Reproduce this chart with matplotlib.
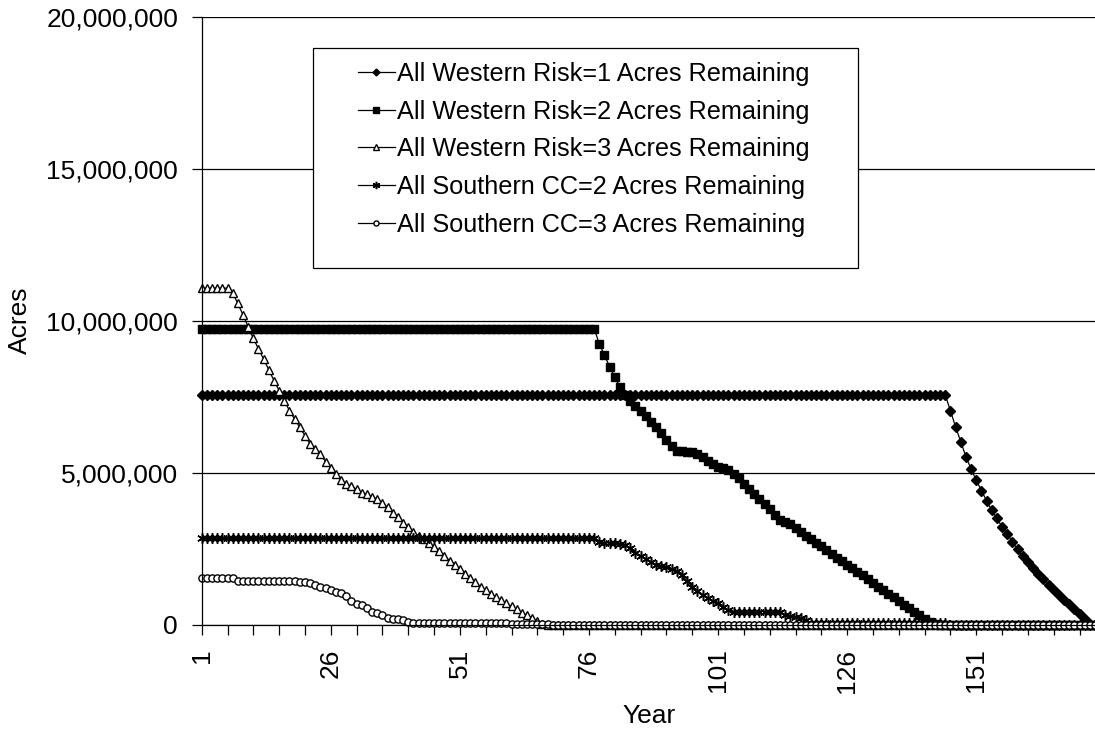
import matplotlib as mpl
mpl.use('Agg')
import matplotlib.pyplot as plt
from matplotlib.patches import Rectangle
from matplotlib.ticker import FuncFormatter

plt.rcParams['font.family'] = ['Liberation Sans', 'DejaVu Sans']

# years 1..174
years = list(range(1, 175))

# acres remaining, in millions
west_risk1 = [7.57] * 145 + [
    7.04, 6.52, 6.03, 5.54, 5.13, 4.77, 4.42, 4.09, 3.78, 3.51,
    3.23, 2.99, 2.74, 2.49, 2.28, 2.07, 1.86, 1.68, 1.50, 1.32,
    1.15, 0.99, 0.82, 0.68, 0.52, 0.35, 0.19, 0.03, 0.0]

west_risk2 = [9.75] * 77 + [
    9.25, 8.87, 8.50, 8.15, 7.82, 7.55, 7.38, 7.20, 7.04, 6.86,
    6.69, 6.52, 6.30, 6.09, 5.90, 5.74, 5.71, 5.70, 5.68, 5.64,
    5.52, 5.40, 5.29, 5.21, 5.15, 5.10, 4.97, 4.82, 4.65, 4.48,
    4.31, 4.14, 3.97, 3.80, 3.62, 3.46, 3.40, 3.33, 3.18, 3.07,
    2.94, 2.83, 2.70, 2.59, 2.46, 2.35, 2.22, 2.11, 1.98, 1.87,
    1.74, 1.63, 1.50, 1.39, 1.26, 1.15, 1.02, 0.91, 0.78, 0.67,
    0.55, 0.44, 0.32, 0.21, 0.11, 0.03] + [0.0] * 31

west_risk3 = [11.08] * 6 + [
    10.91, 10.58, 10.20, 9.81, 9.43, 9.08, 8.74, 8.39, 8.04, 7.71,
    7.38, 7.05, 6.77, 6.50, 6.23, 5.95, 5.78, 5.62, 5.37, 5.15,
    4.96, 4.77, 4.63, 4.57, 4.46, 4.35, 4.30, 4.22, 4.13, 4.02,
    3.87, 3.69, 3.54, 3.37, 3.21, 3.07, 2.93, 2.82, 2.69, 2.58,
    2.44, 2.28, 2.12, 1.97, 1.83, 1.68, 1.54, 1.42, 1.26, 1.14,
    1.03, 0.92, 0.81, 0.71, 0.61, 0.51, 0.41, 0.32, 0.22, 0.12,
    0.04] + [0.0] * 107

south_cc2 = [2.85] * 77 + [
    2.72, 2.70, 2.70, 2.69, 2.68, 2.64, 2.52, 2.38, 2.28, 2.18,
    2.08, 1.99, 1.94, 1.90, 1.84, 1.76, 1.64, 1.44, 1.26, 1.12,
    0.99, 0.88, 0.78, 0.71, 0.60, 0.48, 0.44, 0.44, 0.44, 0.44,
    0.44, 0.44, 0.44, 0.44, 0.44, 0.44, 0.34, 0.30, 0.27, 0.22,
    0.15] + [0.07] * 27 + [0.0] * 29

south_cc3 = [1.54] * 7 + [
    1.46, 1.46, 1.45, 1.45, 1.45, 1.45, 1.45, 1.45, 1.45, 1.45,
    1.45, 1.44, 1.43, 1.41, 1.38, 1.32, 1.24, 1.21, 1.15, 1.10,
    1.04, 0.95, 0.80, 0.69, 0.66, 0.55, 0.44, 0.38, 0.33, 0.22,
    0.21, 0.20, 0.16, 0.11, 0.08] + [0.05] * 18 + [0.03] * 8 + [0.0] * 106

labels = ['All Western Risk=1 Acres Remaining',
          'All Western Risk=2 Acres Remaining',
          'All Western Risk=3 Acres Remaining',
          'All Southern CC=2 Acres Remaining',
          'All Southern CC=3 Acres Remaining']

W, H = 1095, 734
fig = plt.figure(figsize=(W / 100, H / 100), dpi=100)
ax = fig.add_axes([201.7 / W, 1 - 625 / H, (W - 201.7) / W, (625 - 17) / H])

styles = [
    dict(marker='D', ms=5.0, mfc='black', mew=1.0),
    dict(marker='s', ms=6.0, mfc='black', mew=1.0),
    dict(marker='^', ms=6.2, mfc='white', mew=1.0),
    dict(marker=(6, 2, 0), ms=7.5, mew=1.1),
    dict(marker='o', ms=5.2, mfc='white', mew=1.0),
]
series = [west_risk1, west_risk2, west_risk3, south_cc2, south_cc3]

handles = []
for vals, st, lab in zip(series, styles, labels):
    assert len(vals) == len(years), lab
    h, = ax.plot(years, [v * 1e6 for v in vals], color='black', lw=0.9,
                 mec='black', label=lab, clip_on=False, **st)
    handles.append(h)

# axes
ax.set_xlim(1, 174)
ax.set_ylim(0, 20e6)
ax.set_yticks([0, 5e6, 10e6, 15e6, 20e6])
ax.yaxis.set_major_formatter(FuncFormatter(lambda v, p: f'{v:,.0f}'))
xt = list(range(1, 175, 5))
ax.set_xticks(xt)
ax.set_xticklabels([str(t) if (t - 1) % 25 == 0 else '' for t in xt], rotation=90)
ax.tick_params(axis='both', direction='out', length=7, width=0.9, color='black',
               labelsize=19)
ax.tick_params(axis='x', pad=10)
ax.tick_params(axis='y', pad=10)
ax.grid(axis='y', color='black', lw=0.9)
ax.set_axisbelow(True)
for s in ['top', 'right']:
    ax.spines[s].set_visible(False)
for s in ['left', 'bottom']:
    ax.spines[s].set_linewidth(0.9)
    ax.spines[s].set_zorder(5)

fig.text(20 / W, 1 - 320 / H, 'Acres', rotation=90, ha='center', va='center', fontsize=19)
fig.text(649 / W, 1 - 716 / H, 'Year', ha='center', va='center', fontsize=19)

# legend box
box = Rectangle((313 / W, 1 - 268 / H), (858 - 313) / W, (268 - 48) / H,
                transform=fig.transFigure, facecolor='white', edgecolor='black',
                lw=0.9, zorder=3)
fig.patches.append(box)
leg = fig.legend(handles, labels, loc='upper left',
                 bbox_to_anchor=(358 / W, 1 - 62 / H), frameon=False,
                 borderpad=0, borderaxespad=0, handlelength=1.45,
                 handletextpad=0.1, labelspacing=0.54, fontsize=18.2,
                 markerscale=0.7)
leg.set_zorder(5)

fig.savefig('out.png', dpi=100)
